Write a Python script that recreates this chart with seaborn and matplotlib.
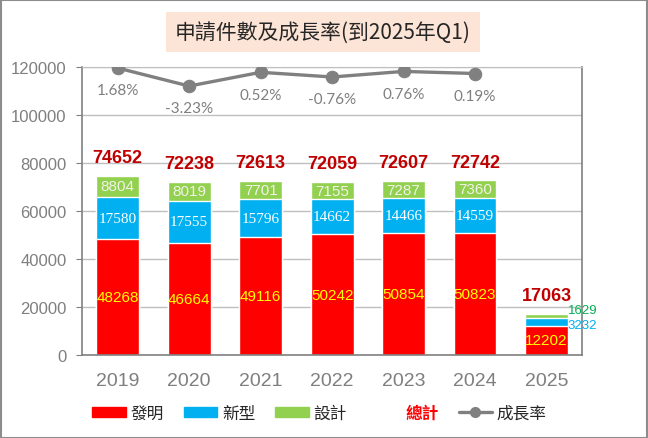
import matplotlib
matplotlib.use("Agg")
import matplotlib.pyplot as plt
import matplotlib.patches as mpatches
from matplotlib.lines import Line2D
import numpy as np
import pandas as pd
import seaborn as sns

years = ["2019", "2020", "2021", "2022", "2023", "2024", "2025"]
invention = [48268, 46664, 49116, 50242, 50854, 50823, 12202]
utility = [17580, 17555, 15796, 14662, 14466, 14559, 3232]
design = [8804, 8019, 7701, 7155, 7287, 7360, 1629]
totals = [74652, 72238, 72613, 72059, 72607, 72742, 17063]
growth = [1.68, -3.23, 0.52, -0.76, 0.76, 0.19]

RED = "#FF0000"
BLUE = "#00B0F0"
GREEN = "#92D050"
GRAY = "#808080"

sns.set_style("white")
plt.rcParams["font.family"] = ["Liberation Sans", "Noto Sans CJK TC", "DejaVu Sans"]
CJK = ["Noto Sans CJK TC", "DejaVu Sans"]

df = pd.DataFrame({"year": years, "inv": invention, "uti": utility, "des": design})
df["top"] = df["inv"] + df["uti"] + df["des"]
df["mid"] = df["inv"] + df["uti"]

fig = plt.figure(figsize=(6.48, 4.39), dpi=100)
ax = fig.add_axes([0.1265, 0.189, 0.772, 0.656])

# stacked bars: draw the full height first, then cover with lower parts
sns.barplot(data=df, x="year", y="top", color=GREEN, saturation=1, width=0.6, ax=ax, zorder=2)
sns.barplot(data=df, x="year", y="mid", color=BLUE, saturation=1, width=0.6, ax=ax, zorder=2)
sns.barplot(data=df, x="year", y="inv", color=RED, saturation=1, width=0.6, ax=ax, zorder=2)

ax.set_ylim(0, 120000)
ax.set_xlim(-0.5, 6.5)
ax.set_yticks(range(0, 120001, 20000))
ax.yaxis.grid(True, color="#BFBFBF", linewidth=1)
ax.set_axisbelow(True)
ax.set_xlabel("")
ax.set_ylabel("")
for s in ["left", "bottom", "right"]:
    ax.spines[s].set_color(GRAY)
    ax.spines[s].set_linewidth(1.2)
ax.spines["top"].set_color("#BFBFBF")
ax.tick_params(axis="x", length=0, labelsize=14, labelcolor="#7F7F7F", pad=12)
ax.set_xticks(np.arange(-0.5, 7, 1), minor=True)
ax.tick_params(axis="x", which="minor", length=5, color=GRAY, width=1.2)
ax.tick_params(axis="y", length=4, color=GRAY, labelsize=12, labelcolor="#7F7F7F", pad=7)

c_des = ax.containers[0]

# segment labels centred in each segment
last = len(years) - 1
for i, bar in enumerate(c_des):
    xc = bar.get_x() + bar.get_width() / 2
    ax.text(xc, invention[i] / 2, str(invention[i]), ha="center", va="center",
            color="#FFFF00", fontsize=11, zorder=5)
    if i == last:
        continue
    ax.text(xc, invention[i] + utility[i] / 2, str(utility[i]), ha="center", va="center",
            color="white", fontsize=11, family="Liberation Serif", zorder=5)
    ax.text(xc, invention[i] + utility[i] + design[i] / 2, str(design[i]), ha="center",
            va="center", color="#F2F2E6", fontsize=11, zorder=5)

ax.bar_label(c_des, labels=[str(v) for v in totals], padding=7,
             color="#C00000", fontsize=13, fontweight="bold")

# last year: small segments labelled beside the bar
xr = c_des[last].get_x() + c_des[last].get_width()
ax.annotate(str(design[last]), xy=(xr, invention[last] + utility[last] + design[last] / 2),
            xytext=(0, 4), textcoords="offset points", ha="left", va="center",
            color="#00B050", fontsize=9.5)
ax.annotate(str(utility[last]), xy=(xr, invention[last] + utility[last] / 2),
            xytext=(0, -2), textcoords="offset points", ha="left", va="center",
            color=BLUE, fontsize=9.5)

# growth rate on a hidden secondary axis
ax2 = ax.twinx()
sns.lineplot(x=np.arange(len(growth)), y=growth, ax=ax2, color=GRAY, linewidth=2.4,
             marker="o", markersize=9, markeredgecolor=GRAY)
ax2.set_ylim(-76.5, 1.95)
ax2.set_xlim(-0.5, 6.5)
ax2.axis("off")
for i, g in enumerate(growth):
    ax2.annotate(f"{g:.2f}%", xy=(i, g), xytext=(0, -16), textcoords="offset points",
                 ha="center", va="center", color="#7F7F7F", fontsize=11, family="Lato")

# title box
fig.text(0.4985, 0.925, "申請件數及成長率(到2025年Q1)", ha="center", va="center",
         fontsize=15, family=CJK, color="#262626",
         bbox=dict(boxstyle="square,pad=0.45", facecolor="#FCE4D6", edgecolor="none"))

# legend
handles = [
    mpatches.Patch(color=RED),
    mpatches.Patch(color=BLUE),
    mpatches.Patch(color=GREEN),
    mpatches.Patch(color="none"),
    Line2D([0], [0], color=GRAY, linewidth=2.4, marker="o", markersize=7),
]
labels = ["發明", "新型", "設計", "總計", "成長率"]
leg = fig.legend(handles, labels, loc="center", bbox_to_anchor=(0.493, 0.057), ncol=5,
                 frameon=False, prop={"family": CJK, "size": 12},
                 handlelength=2.0, handleheight=0.6, handletextpad=0.3, columnspacing=1.2)
tot = leg.get_texts()[3]
tot.set_color("#FF0000")
tot.set_fontweight("bold")

fig.patches.append(mpatches.Rectangle((0.001, 0.001), 0.997, 0.997, transform=fig.transFigure,
                                      fill=False, edgecolor="#8C8C8C", linewidth=1.5))

fig.savefig("out.png", dpi=100)
